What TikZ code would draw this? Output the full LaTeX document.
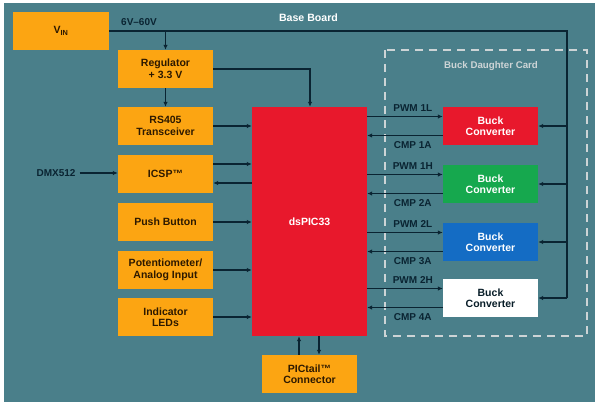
\documentclass[tikz,border=0pt]{standalone}
\usepackage{fontspec}
\setmainfont{Liberation Sans}
\usetikzlibrary{arrows.meta,calc}
\definecolor{teal0}{RGB}{74,127,138}
\definecolor{orng}{RGB}{252,165,18}
\definecolor{redc}{RGB}{232,24,44}
\definecolor{grnc}{RGB}{22,168,78}
\definecolor{bluc}{RGB}{20,108,196}
\definecolor{linec}{RGB}{10,36,50}
\definecolor{boxtxt}{RGB}{45,25,0}
\definecolor{dashc}{RGB}{205,212,214}
\begin{document}
\begin{tikzpicture}[x=1pt,y=-1pt,
  blk/.style={draw=none,fill=orng,minimum width=95pt,minimum height=38pt,inner sep=1pt,
    align=center,font=\fontsize{10.5}{11.5}\selectfont\bfseries,text=boxtxt},
  buck/.style={draw=none,minimum width=95pt,minimum height=38pt,inner sep=1pt,
    align=center,font=\fontsize{10.5}{11.5}\selectfont\bfseries,text=white},
  lbl/.style={font=\fontsize{10}{11}\selectfont\bfseries,text=linec,inner sep=0pt},
  conn/.style={draw=linec,line width=1.3pt},
  arr/.style={conn,-{Latex[length=5pt,width=4.5pt]}}]
\useasboundingbox (0,0) rectangle (600,407);
\fill[white] (0,0) rectangle (600,407);
\fill[teal0] (4,3) rectangle (595,402);
% dashed daughter card
\draw[dashc,line width=2.5pt,dash pattern=on 8pt off 6pt] (385,50) rectangle (587,336);
\node[font=\fontsize{9.7}{11}\selectfont\bfseries,text=dashc] (bdc) at (491,66) {Buck Daughter Card};
\node[font=\fontsize{10.6}{12}\selectfont\bfseries,text=white] (bb) at (308.5,18) {Base Board};
% left blocks
\node[blk,minimum width=96pt] (vin) at (61,31) {V\textsubscript{IN}};
\node[blk] (reg) at (165.5,69) {Regulator\\+ 3.3 V};
\node[blk] (rs) at (165.5,126) {RS405\\Transceiver};
\node[blk] (icsp) at (165.5,174) {ICSP™};
\node[blk] (push) at (165.5,222) {Push Button};
\node[blk] (pot) at (165.5,270) {Potentiometer/\\Analog Input};
\node[blk] (led) at (165.5,317) {Indicator\\LEDs};
\node[fill=redc,minimum width=115pt,minimum height=229pt,inner sep=0pt,
  font=\fontsize{10.5}{12}\selectfont\bfseries,text=white] (dsp) at (309.5,221.5) {dsPIC33};
\node[blk] (pic) at (309.5,374) {PICtail™\\Connector};
% buck converters
\node[buck,fill=redc] (b1) at (490.5,126) {Buck\\Converter};
\node[buck,fill=grnc] (b2) at (490.5,184) {Buck\\Converter};
\node[buck,fill=bluc] (b3) at (490.5,242) {Buck\\Converter};
\node[buck,fill=white,text=linec!80!black] (b4) at (490.5,298) {Buck\\Converter};
% labels
\node[lbl] (v6) at (139,22) {6V–60V};
\node[lbl] (dmx) at (56,173) {DMX512};
% power rail
\coordinate (rtop) at (567,31);
\coordinate (rbot) at (567,298);
\draw[conn] (vin.east |- rtop) -- (rtop) -- (rbot);
\draw[arr] (rbot) -- (b4.east);
\draw[arr] (b1.east -| rtop) -- (b1.east);
\draw[arr] (b2.east -| rtop) -- (b2.east);
\draw[arr] (b3.east -| rtop) -- (b3.east);
\draw[arr] (reg.north |- rtop) -- (reg.north);
% regulator
\coordinate (rc) at (310,69);
\draw[arr] (reg.east) -- (rc) -- (rc |- dsp.north);
\draw[arr] (reg.south) -- (rs.north);
% left to dsPIC
\draw[arr] (rs.east) -- (rs.east -| dsp.west);
\draw[arr] ([yshift=10pt]icsp.east) -- ([yshift=10pt]icsp.east -| dsp.west);
\draw[arr] ([yshift=-9pt]icsp.east -| dsp.west) -- ([yshift=-9pt]icsp.east);
\draw[arr] (push.east) -- (push.east -| dsp.west);
\draw[arr] (pot.east) -- (pot.east -| dsp.west);
\draw[arr] (led.east) -- (led.east -| dsp.west);
\draw[arr] ([xshift=4pt]dmx.east) -- (dmx.east -| icsp.west);
% PICtail
\draw[arr] ([xshift=-10.5pt]pic.north) -- ([xshift=-10.5pt]pic.north |- dsp.south);
\draw[arr] ([xshift=9.5pt]pic.north |- dsp.south) -- ([xshift=9.5pt]pic.north);
% PWM / CMP
\foreach \b/\p/\c in {b1/PWM 1L/CMP 1A,b2/PWM 1H/CMP 2A,b3/PWM 2L/CMP 3A,b4/PWM 2H/CMP 4A}{
  \draw[arr] ([yshift=9.5pt]\b.west -| dsp.east) -- ([yshift=9.5pt]\b.west);
  \draw[arr] ([yshift=-9.5pt]\b.west) -- ([yshift=-9.5pt]\b.west -| dsp.east);
  \node[lbl] at ($(\b.west)+(-30pt,18pt)$) {\p};
  \node[lbl] at ($(\b.west)+(-30pt,-19pt)$) {\c};
}
\end{tikzpicture}
\end{document}
